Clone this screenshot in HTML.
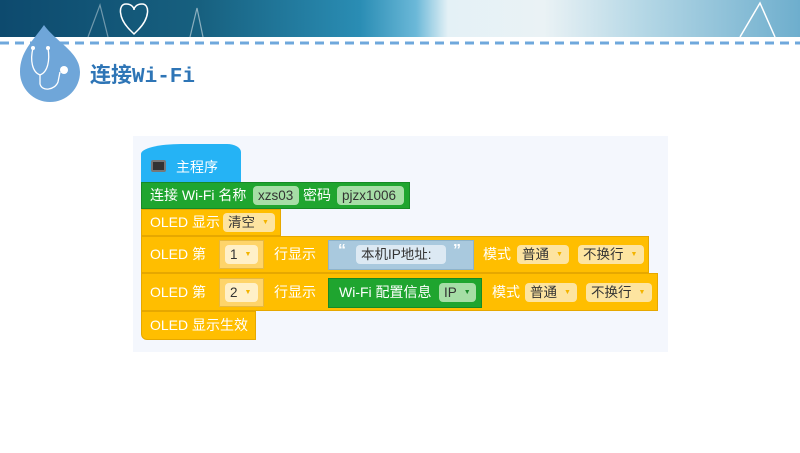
<!DOCTYPE html>
<html><head><meta charset="utf-8"><style>
*{margin:0;padding:0;box-sizing:border-box}
body{width:800px;height:453px;background:#fff;position:relative;overflow:hidden;font-family:"Liberation Sans","Noto Sans CJK SC",sans-serif}
.a{position:absolute}
.t{position:absolute;color:#fff;font-size:14px;white-space:nowrap;line-height:1}
.f{position:absolute;border-radius:4px;font-size:13.5px;color:#333;white-space:nowrap;line-height:1;padding-left:5px;display:flex;align-items:center}
.fy{background:#fde4a0}
.fg{background:#a6dea6}
.dd{color:#f3b400;font-size:7px;margin-left:7px}
.y{background:#ffbe00;border:1px solid #e6a800}
</style></head><body>
<div class="a" style="left:0;top:0;width:800px;height:37px;background:linear-gradient(90deg,#0d4a6e 0%,#17607f 25%,#2a8db4 45%,#6bb8d8 52%,#e4f1f6 56%,#eaf2f5 68%,#b6d8e6 80%,#6eaecd 100%)"></div>
<svg class="a" style="left:0;top:0" width="800" height="110">
<path d="M88 37 L100 5 L108 37" stroke="#fff" stroke-width="1.2" fill="none" opacity=".4"/>
<path d="M190 37 L197 8 L203 37" stroke="#fff" stroke-width="1.2" fill="none" opacity=".5"/>
<path d="M130 30 C118 18 118 4 126 4 C132 4 134 8 134 10 C134 8 136 4 142 4 C150 4 150 18 138 30 L134 34 Z" stroke="#fff" stroke-width="1.5" fill="none"/>
<path d="M740 37 L760 3 L775 37" stroke="#fff" stroke-width="1.5" fill="none"/>
<line x1="0" y1="43" x2="800" y2="43" stroke="#6fa8dc" stroke-width="3" stroke-dasharray="9,6"/>
<path d="M44 25 C56 42 80 52 80 72 A30 30 0 0 1 20 72 C20 52 32 42 44 25 Z" fill="#6fa6d9"/>
<path d="M33 48 C30 60 32 72 40 75 C48 72 50 60 48 48" stroke="#fff" stroke-width="1.3" fill="none"/>
<circle cx="33" cy="48" r="2" fill="#fff"/><circle cx="48" cy="48" r="2" fill="#fff"/>
<path d="M40 75 L40 84 C42 92 55 90 58 82 L60 72" stroke="#fff" stroke-width="1.3" fill="none"/>
<circle cx="64" cy="70" r="4" fill="#fff"/>
<text x="90" y="82" font-family="Liberation Mono,Noto Sans CJK SC,monospace" font-size="21" fill="#2e75b6" font-weight="bold">连接Wi-Fi</text>
</svg>
<div class="a" style="left:133px;top:136px;width:535px;height:216px;background:#f4f7fd"></div>
<!-- hat -->
<div class="a" style="left:141px;top:144px;width:100px;height:38px;background:#25b3f5;border-radius:40px 14px 0 0/10px 8px 0 0"></div>
<div class="a" style="left:151px;top:160px;width:15px;height:12px;background:#333;border-radius:2px;border:2px solid #777"></div>
<div class="t" style="left:176px;top:160px">主程序</div>
<!-- green -->
<div class="a" style="left:141px;top:182px;width:269px;height:27px;background:#1fa52f;border:1px solid #178a26"></div>
<div class="t" style="left:150px;top:188px">连接 Wi-Fi 名称</div>
<div class="f fg" style="left:253px;top:186px;width:46px;height:19px">xzs03</div>
<div class="t" style="left:303px;top:188px">密码</div>
<div class="f fg" style="left:337px;top:186px;width:67px;height:19px">pjzx1006</div>
<!-- clear -->
<div class="a y" style="left:141px;top:209px;width:140px;height:27px"></div>
<div class="t" style="left:150px;top:215px">OLED 显示</div>
<div class="f fy" style="left:223px;top:213px;width:52px;height:19px">清空<span class="dd">▼</span></div>
<!-- row1 -->
<div class="a y" style="left:141px;top:236px;width:508px;height:37px"></div>
<div class="t" style="left:150px;top:247px">OLED 第</div>
<div class="a" style="left:219px;top:240px;width:45px;height:29px;background:#fed46a;border:1px solid #e6b840"></div>
<div class="f" style="left:225px;top:245px;width:33px;height:19px;background:#fff0c8">1<span class="dd">▼</span></div>
<div class="t" style="left:274px;top:247px">行显示</div>
<div class="a" style="left:328px;top:240px;width:146px;height:30px;background:#a9c9de;border:1px solid #8fb3ca"></div>
<div class="t" style="left:338px;top:243px;font-weight:bold;font-size:16px">“</div>
<div class="f" style="left:356px;top:245px;width:90px;height:19px;background:#dce9f3">本机IP地址:</div>
<div class="t" style="left:453px;top:243px;font-weight:bold;font-size:16px">”</div>
<div class="t" style="left:483px;top:247px">模式</div>
<div class="f fy" style="left:517px;top:245px;width:52px;height:19px">普通<span class="dd">▼</span></div>
<div class="f fy" style="left:578px;top:245px;width:66px;height:19px">不换行<span class="dd">▼</span></div>
<!-- row2 -->
<div class="a y" style="left:141px;top:273px;width:517px;height:38px"></div>
<div class="t" style="left:150px;top:285px">OLED 第</div>
<div class="a" style="left:219px;top:278px;width:45px;height:29px;background:#fed46a;border:1px solid #e6b840"></div>
<div class="f" style="left:225px;top:283px;width:33px;height:19px;background:#fff0c8">2<span class="dd">▼</span></div>
<div class="t" style="left:274px;top:285px">行显示</div>
<div class="a" style="left:328px;top:278px;width:154px;height:30px;background:#1fa52f;border:1px solid #178a26"></div>
<div class="t" style="left:339px;top:285px">Wi-Fi 配置信息</div>
<div class="f fg" style="left:439px;top:283px;width:37px;height:19px">IP<span class="dd" style="color:#1a8a2a">▼</span></div>
<div class="t" style="left:492px;top:285px">模式</div>
<div class="f fy" style="left:525px;top:283px;width:52px;height:19px">普通<span class="dd">▼</span></div>
<div class="f fy" style="left:586px;top:283px;width:66px;height:19px">不换行<span class="dd">▼</span></div>
<!-- final -->
<div class="a y" style="left:141px;top:311px;width:115px;height:29px;border-radius:0 0 0 6px"></div>
<div class="t" style="left:150px;top:318px">OLED 显示生效</div>
</body></html>
